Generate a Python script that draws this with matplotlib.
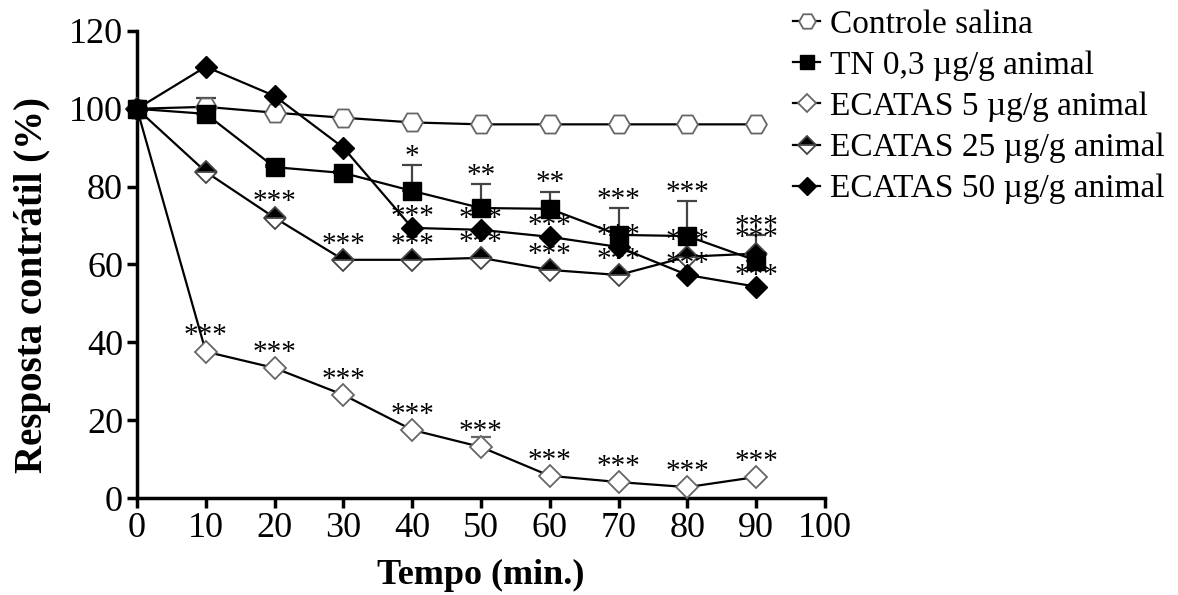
import numpy as np
import matplotlib
matplotlib.use('Agg')
import matplotlib.pyplot as plt

plt.rcParams['font.family'] = ['Liberation Serif', 'DejaVu Serif']

# Time points (min.)
tempo = [0, 10, 20, 30, 40, 50, 60, 70, 80, 90]

# Mean contractile response (%)
controle = [100, 100.5, 99, 97.7, 96.5, 96, 96, 96, 96, 96]
tn = [100, 98.7, 85, 83.5, 78.9, 74.5, 74.3, 67.6, 67.3, 61]
tn_sem = [0, 4, 0.5, 0.5, 6.7, 6.2, 4.4, 6.9, 9, 6.5]
ecatas5 = [100, 37.6, 33.4, 26.5, 17.5, 13.1, 5.7, 4.1, 2.8, 5.4]
ecatas5_sem = [0, 0, 0, 0, 0, 2.6, 0, 0, 0, 0]
ecatas25 = [100, 83.8, 72, 61.2, 61.2, 61.7, 58.6, 57.3, 62, 62.8]
ecatas50 = [100, 110.8, 103.3, 90, 69.4, 68.9, 67.1, 64.5, 57.3, 54.3]

# significance marks
stars_tn = ['', '', '', '', '*', '**', '**', '***', '***', '***']
stars_e5 = ['', '***', '***', '***', '***', '***', '***', '***', '***', '***']
stars_e25 = ['', '', '***', '***', '***', '***', '***', '***', '***', '***']
stars_e50 = ['', '', '', '', '***', '***', '***', '***', '***', '***']

labels = ['Controle salina', 'TN 0,3 \u00b5g/g animal', 'ECATAS 5 \u00b5g/g animal',
          'ECATAS 25 \u00b5g/g animal', 'ECATAS 50 \u00b5g/g animal']

fig = plt.figure(figsize=(11.78, 5.95), dpi=100)
ax = fig.add_axes([0.1163, 0.163, 0.584, 0.785])

lw = 1.6
zeros = np.zeros(len(tempo))

# error bars (upper only)
ax.errorbar(tempo, tn, yerr=[zeros, tn_sem], fmt='none', ecolor='#444444',
            elinewidth=1.6, capsize=7, capthick=1.6, zorder=2, clip_on=False)
ax.errorbar(tempo, ecatas5, yerr=[zeros, ecatas5_sem], fmt='none', ecolor='#666666',
            elinewidth=1.6, capsize=7, capthick=1.6, zorder=2, clip_on=False)

h1, = ax.plot(tempo, controle, color='black', lw=lw, marker='H', ms=15,
              mfc='white', mec='#666666', mew=1.3, zorder=3, clip_on=False)
h3, = ax.plot(tempo, ecatas5, color='black', lw=lw, marker='D', ms=11,
              mfc='white', mec='#666666', mew=1.3, zorder=3, clip_on=False)
h4, = ax.plot(tempo, ecatas25, color='black', lw=lw, marker='D', ms=11,
              fillstyle='top', mfc='black', markerfacecoloralt='white',
              mec='#444444', mew=1.3, zorder=4, clip_on=False)
h5, = ax.plot(tempo, ecatas50, color='black', lw=lw, marker='D', ms=11,
              mfc='black', mec='black', zorder=4, clip_on=False)
h2, = ax.plot(tempo, tn, color='black', lw=lw, marker='s', ms=13,
              mfc='black', mec='black', zorder=5, clip_on=False)

def put_stars(ys, stars, dy):
    for x, y, s in zip(tempo, ys, stars):
        if s:
            ax.annotate(s, (x, y), xytext=(0, dy), textcoords='offset points',
                        ha='center', va='center', fontsize=21, zorder=6)

put_stars(np.array(tn) + np.array(tn_sem), stars_tn, 6)
put_stars(ecatas5, stars_e5, 11)
put_stars(ecatas25, stars_e25, 11)
put_stars(ecatas50, stars_e50, 8)

ax.set_xlim(0, 100)
ax.set_ylim(0, 120)
ax.set_xticks(range(0, 101, 10))
ax.set_yticks(range(0, 121, 20))
ax.spines['top'].set_visible(False)
ax.spines['right'].set_visible(False)
ax.spines['left'].set_linewidth(2.5)
ax.spines['bottom'].set_linewidth(2.5)
ax.tick_params(direction='out', length=7, width=2.5, labelsize=26, pad=3)

ax.set_xlabel('Tempo (min.)', fontsize=26, fontweight='bold', labelpad=10)
ax.set_ylabel('Resposta contr\u00e1til (%)', fontsize=28, fontweight='bold')
ax.yaxis.set_label_coords(-0.125, 0.455)

fig.legend([h1, h2, h3, h4, h5], labels, loc='upper left',
           bbox_to_anchor=(0.648, 1.035), frameon=False, fontsize=24,
           handlelength=0.8, handletextpad=0.3, labelspacing=0.32,
           markerscale=0.8)

plt.savefig('out.png', dpi=100)
